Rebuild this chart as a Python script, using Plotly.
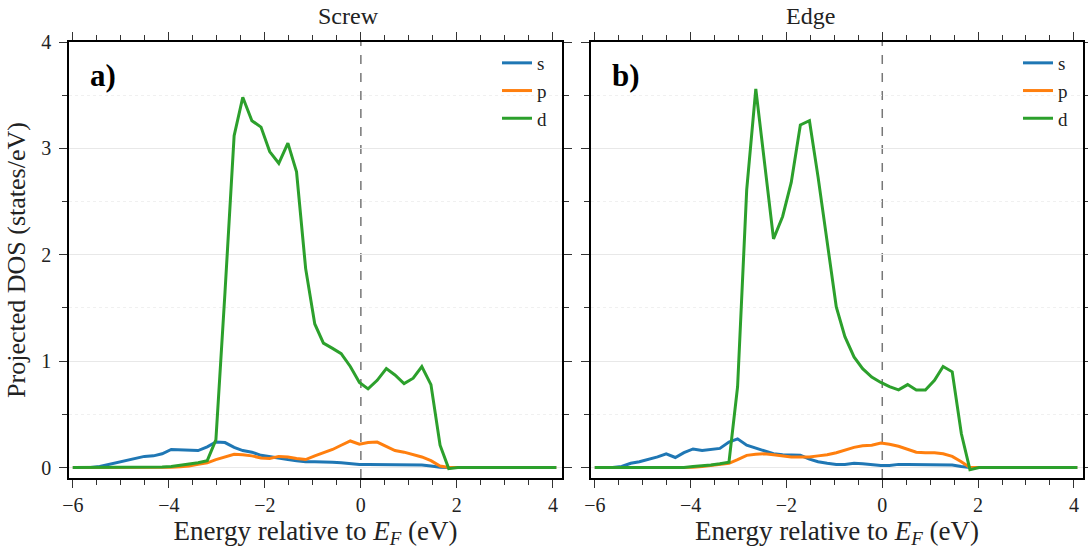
import plotly.graph_objects as go

# Energy grid (eV, relative to E_F)
energy = [-6.00, -5.81, -5.63, -5.44, -5.25, -5.07, -4.88, -4.69, -4.51, -4.32,
          -4.14, -3.95, -3.76, -3.58, -3.39, -3.20, -3.02, -2.83, -2.64, -2.46,
          -2.27, -2.08, -1.90, -1.71, -1.52, -1.34, -1.15, -0.96, -0.78, -0.59,
          -0.41, -0.22, -0.03, 0.15, 0.34, 0.53, 0.71, 0.90, 1.09, 1.27,
          1.46, 1.65, 1.83, 2.02, 2.21, 2.39, 2.58, 2.77, 2.95, 3.14,
          3.33, 3.51, 3.70, 3.88, 4.07]

# Screw dislocation
screw_s = [0, 0, 0, 0.01, 0.03, 0.05, 0.07, 0.09, 0.105, 0.11,
           0.13, 0.17, 0.165, 0.16, 0.16, 0.195, 0.24, 0.235, 0.19, 0.16,
           0.145, 0.115, 0.10, 0.085, 0.075, 0.065, 0.055, 0.055, 0.055, 0.05,
           0.045, 0.035, 0.03, 0.03, 0.03, 0.03, 0.025, 0.03, 0.03, 0.025,
           0.015, 0.003, 0, 0, 0, 0, 0, 0, 0, 0,
           0, 0, 0, 0, 0]
screw_p = [0, 0, 0, 0, 0, 0, 0, 0, 0, 0,
           0, 0.002, 0.008, 0.015, 0.03, 0.045, 0.075, 0.10, 0.125, 0.12,
           0.11, 0.09, 0.085, 0.105, 0.10, 0.085, 0.075, 0.11, 0.14, 0.17,
           0.21, 0.25, 0.22, 0.235, 0.24, 0.20, 0.16, 0.145, 0.125, 0.10,
           0.065, 0.015, 0, 0, 0, 0, 0, 0, 0, 0,
           0, 0, 0, 0, 0]
screw_d = [0, 0, 0, 0, 0, 0, 0, 0, 0, 0,
           0.005, 0.01, 0.02, 0.03, 0.045, 0.065, 0.26, 1.65, 3.12, 3.48,
           3.26, 3.20, 2.97, 2.86, 3.05, 2.78, 1.87, 1.35, 1.17, 1.12,
           1.07, 0.95, 0.80, 0.74, 0.82, 0.93, 0.87, 0.79, 0.84, 0.95,
           0.78, 0.21, -0.01, 0, 0, 0, 0, 0, 0, 0,
           0, 0, 0, 0, 0]

# Edge dislocation
edge_s = [0, 0, 0, 0.01, 0.04, 0.055, 0.075, 0.10, 0.13, 0.095,
          0.14, 0.175, 0.16, 0.17, 0.18, 0.24, 0.27, 0.21, 0.185, 0.155,
          0.13, 0.12, 0.115, 0.115, 0.08, 0.055, 0.04, 0.03, 0.03, 0.04,
          0.035, 0.025, 0.02, 0.02, 0.03, 0.03, 0.03, 0.03, 0.03, 0.03,
          0.025, 0.01, 0, 0, 0, 0, 0, 0, 0, 0,
          0, 0, 0, 0, 0]
edge_p = [0, 0, 0, 0, 0, 0, 0, 0, 0, 0,
          0, 0.003, 0.01, 0.018, 0.025, 0.04, 0.075, 0.115, 0.125, 0.13,
          0.12, 0.11, 0.10, 0.10, 0.10, 0.11, 0.12, 0.14, 0.165, 0.19,
          0.205, 0.21, 0.23, 0.22, 0.20, 0.175, 0.145, 0.14, 0.14, 0.13,
          0.105, 0.055, 0, 0, 0, 0, 0, 0, 0, 0,
          0, 0, 0, 0, 0]
edge_d = [0, 0, 0, 0, 0, 0, 0, 0, 0, 0,
          0, 0.01, 0.015, 0.025, 0.035, 0.05, 0.76, 2.61, 3.56, 2.85,
          2.15, 2.36, 2.68, 3.22, 3.26, 2.73, 2.10, 1.51, 1.23, 1.04,
          0.93, 0.85, 0.80, 0.76, 0.73, 0.78, 0.73, 0.73, 0.82, 0.95,
          0.90, 0.32, -0.02, 0, 0, 0, 0, 0, 0, 0,
          0, 0, 0, 0, 0]

panel_titles = ["Screw", "Edge"]
panel_labels = ["a)", "b)"]
orbital_names = ["s", "p", "d"]
colors = ["#1f77b4", "#ff7f0e", "#2ca02c"]
EF = 0.0

FONT = "Liberation Serif"

fig = go.Figure()

panels = [(screw_s, screw_p, screw_d), (edge_s, edge_p, edge_d)]
for k, series in enumerate(panels):
    xa = "x" if k == 0 else "x2"
    ya = "y" if k == 0 else "y2"
    leg = "legend" if k == 0 else "legend2"
    for name, vals, col in zip(orbital_names, series, colors):
        fig.add_trace(go.Scatter(x=energy, y=vals, mode="lines", name=name,
                                 line=dict(color=col, width=3),
                                 xaxis=xa, yaxis=ya, legend=leg))

ydom = [1 - 478 / 552, 1 - 42 / 552]
xdoms = [[69 / 1088, 562 / 1088], [591 / 1088, 1083 / 1088]]

axis_common = dict(showline=True, linecolor="black", linewidth=1.5, mirror="allticks",
                   ticks="outside", ticklen=8, tickwidth=1.2, tickcolor="#333",
                   tickfont=dict(family=FONT, size=20, color="#222"), zeroline=False,
                   automargin=False)

xcommon = dict(axis_common, range=[-6.08, 4.19], dtick=2, tick0=0, showgrid=False,
               minor=dict(dtick=0.5, ticklen=5, ticks="outside", tickcolor="#333", showgrid=False),
               title=dict(text="Energy relative to <i>E</i><sub><i>F</i></sub> (eV)",
                          font=dict(family=FONT, size=27, color="#222"), standoff=2))
ycommon = dict(axis_common, range=[-0.098, 4.0], dtick=1, tick0=0, showgrid=True,
               gridcolor="#e8e8e8", gridwidth=1,
               minor=dict(dtick=0.5, ticklen=5, ticks="outside", tickcolor="#333",
                          showgrid=True, gridcolor="#f0f0f0", griddash="dot", gridwidth=1))

fig.update_layout(
    width=1088, height=552,
    margin=dict(l=0, r=0, t=0, b=0),
    plot_bgcolor="white", paper_bgcolor="white",
    xaxis=dict(xcommon, domain=xdoms[0], anchor="y"),
    xaxis2=dict(xcommon, domain=xdoms[1], anchor="y2"),
    yaxis=dict(ycommon, domain=ydom, anchor="x", ticklabelstandoff=4,
               title=dict(text="Projected DOS (states/eV)",
                          font=dict(family=FONT, size=26, color="#222"), standoff=8)),
    yaxis2=dict(ycommon, domain=ydom, anchor="x2", showticklabels=False),
    legend=dict(x=497 / 1088, y=1 - 44 / 552, xanchor="left", yanchor="top",
                bgcolor="rgba(0,0,0,0)", font=dict(family=FONT, size=19, color="#222")),
    legend2=dict(x=1018 / 1088, y=1 - 44 / 552, xanchor="left", yanchor="top",
                 bgcolor="rgba(0,0,0,0)", font=dict(family=FONT, size=19, color="#222")),
    showlegend=True,
)

for k in range(2):
    xa = "x" if k == 0 else "x2"
    fig.add_shape(type="line", xref=xa, yref=f"{'y' if k == 0 else 'y2'} domain",
                  x0=EF, x1=EF, y0=0, y1=1,
                  line=dict(color="#777", width=1.5, dash="dash"), layer="below")
    dom = xdoms[k]
    fig.add_annotation(text=panel_titles[k], xref="paper", yref="paper",
                       x=(dom[0] + dom[1]) / 2, y=1 - 16 / 552, yanchor="middle",
                       showarrow=False, font=dict(family=FONT, size=24, color="#222"))
    fig.add_annotation(text=f"<b>{panel_labels[k]}</b>", xref=f"{xa} domain", yref="paper",
                       x=0.038, y=1 - 75 / 552, xanchor="left", yanchor="middle",
                       showarrow=False, font=dict(family=FONT, size=31, color="black"))

fig.write_html("out.html")
